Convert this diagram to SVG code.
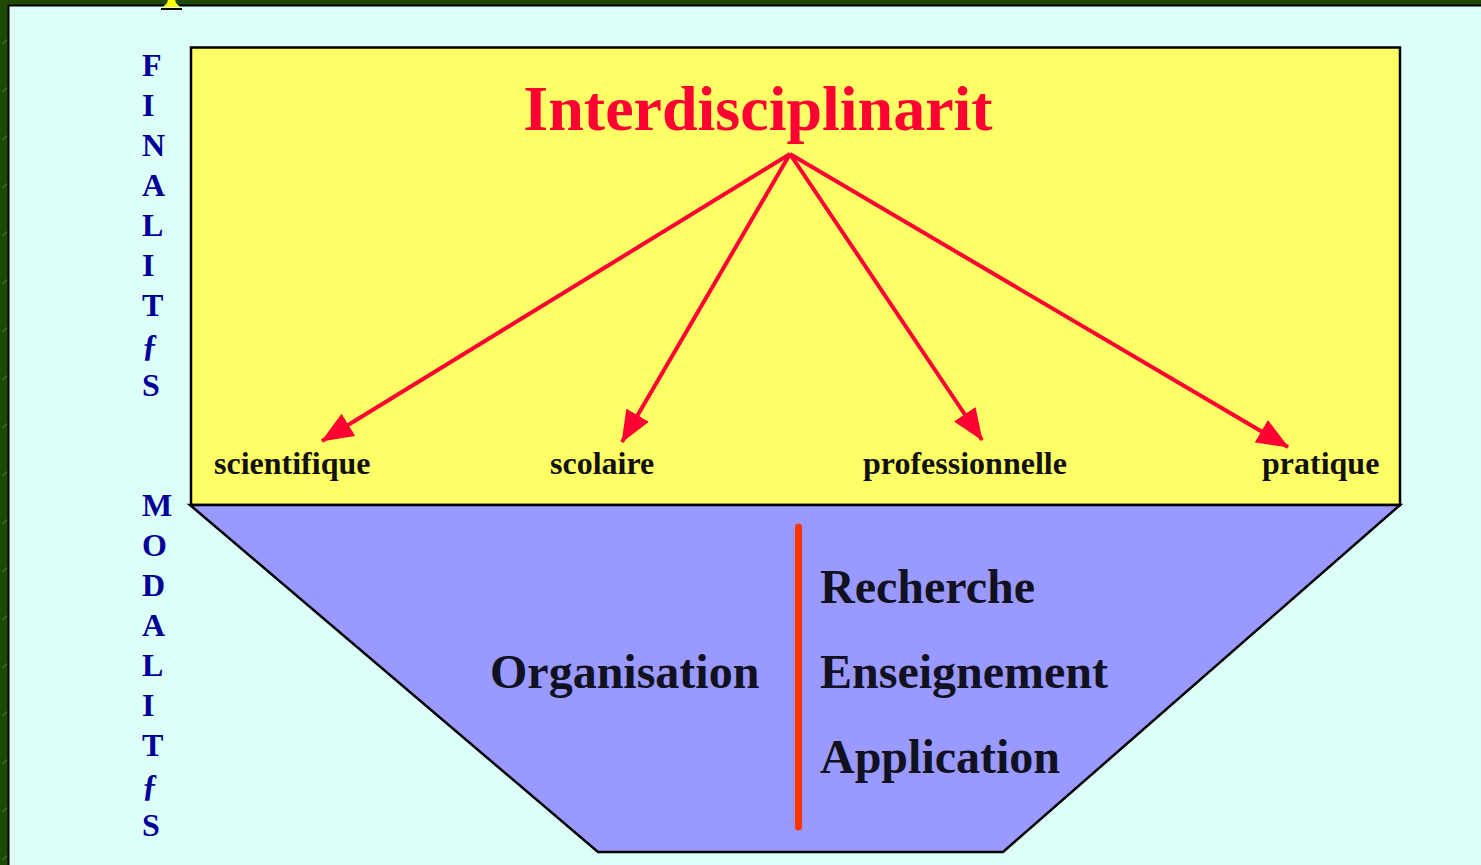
<svg xmlns="http://www.w3.org/2000/svg" width="1481" height="865" viewBox="0 0 1481 865">
<defs>
<style>
.side{font-family:"Liberation Serif","Times New Roman",serif;font-weight:bold;font-size:32px;fill:#000099}
.lbl{font-family:"Liberation Serif","Times New Roman",serif;font-weight:bold;font-size:32px;fill:#111111}
.big{font-family:"Liberation Serif","Times New Roman",serif;font-weight:bold;font-size:48px;fill:#111122}
.arrow{stroke:#ff0033;stroke-width:4;fill:none}
</style>
<marker id="ah" viewBox="0 0 32 26" refX="31" refY="13" markerWidth="32" markerHeight="26" markerUnits="userSpaceOnUse" orient="auto">
<path d="M0,0 L32,13 L0,26 Z" fill="#ff0033"/>
</marker>
<pattern id="grn" width="48" height="48" patternUnits="userSpaceOnUse">
<rect width="48" height="48" fill="#1f4a06"/>
<path d="M2,44 L12,36" stroke="#7a9a6a" stroke-width="0.6"/>
</pattern>
</defs>
<rect x="0" y="0" width="1481" height="865" fill="url(#grn)"/>
<rect x="8" y="5" width="1473" height="860" fill="#dcfff8"/>
<path d="M8.5,865 V5.5 H1481" fill="none" stroke="#000" stroke-width="2"/>
<g id="top-mark">
<path d="M163,7 L167,3 L168,0 L175,0 L176,3 L180,7 Z" fill="#ffff00"/>
<rect x="161" y="8" width="21" height="2" fill="#000"/>
</g>
<g id="finalites">
<text class="side" x="142" y="76">F</text>
<text class="side" x="142" y="116">I</text>
<text class="side" x="142" y="156">N</text>
<text class="side" x="142" y="196">A</text>
<text class="side" x="142" y="236">L</text>
<text class="side" x="142" y="276">I</text>
<text class="side" x="142" y="316">T</text>
<text class="side" x="142" y="356">ƒ</text>
<text class="side" x="142" y="396">S</text>
</g>
<g id="modalites">
<text class="side" x="142" y="516">M</text>
<text class="side" x="142" y="556">O</text>
<text class="side" x="142" y="596">D</text>
<text class="side" x="142" y="636">A</text>
<text class="side" x="142" y="676">L</text>
<text class="side" x="142" y="716">I</text>
<text class="side" x="142" y="756">T</text>
<text class="side" x="142" y="796">ƒ</text>
<text class="side" x="142" y="836">S</text>
</g>
<g id="finalites-box">
<rect x="191" y="47.5" width="1209" height="457.5" fill="#ffff66" stroke="#000" stroke-width="2.5"/>
</g>
<g id="modalites-box">
<path d="M190,505 L1400,505 L1003,852 L598,852 Z" fill="#9999ff" stroke="#000" stroke-width="2.5" stroke-linejoin="miter"/>
</g>
<g id="title">
<text x="758" y="130" text-anchor="middle" font-family="'Liberation Serif','Times New Roman',serif" font-weight="bold" font-size="64" fill="#ff0033">Interdisciplinarit</text>
</g>
<g id="connectors">
<line class="arrow" x1="790" y1="154" x2="322" y2="441" marker-end="url(#ah)"/>
<line class="arrow" x1="790" y1="154" x2="622" y2="442" marker-end="url(#ah)"/>
<line class="arrow" x1="790" y1="154" x2="982" y2="440" marker-end="url(#ah)"/>
<line class="arrow" x1="790" y1="154" x2="1288" y2="447" marker-end="url(#ah)"/>
</g>
<g id="n-scientifique"><text class="lbl" x="214" y="474">scientifique</text></g>
<g id="n-scolaire"><text class="lbl" x="550" y="474">scolaire</text></g>
<g id="n-professionnelle"><text class="lbl" x="863" y="474">professionnelle</text></g>
<g id="n-pratique"><text class="lbl" x="1262" y="474">pratique</text></g>
<g id="organisation">
<text class="big" x="490" y="688">Organisation</text>
<line x1="798.5" y1="527" x2="798.5" y2="827" stroke="#ff3300" stroke-width="7" stroke-linecap="round"/>
</g>
<g id="activites">
<text class="big" x="820" y="603">Recherche</text>
<text class="big" x="820" y="688">Enseignement</text>
<text class="big" x="820" y="773">Application</text>
</g>
</svg>
